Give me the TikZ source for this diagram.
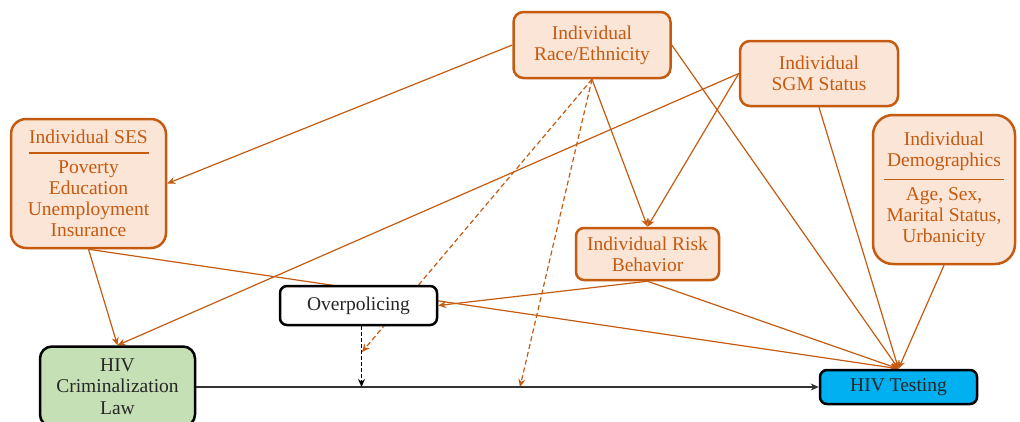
\documentclass[tikz,border=0pt]{standalone}
\usepackage{fontspec}
\setmainfont{Liberation Serif}
\newfontfamily\diagfont{Liberation Serif}
\usetikzlibrary{arrows.meta,backgrounds}

\definecolor{confcolor}{HTML}{C55A11}
\definecolor{conffill}{HTML}{FBE5D6}
\definecolor{lawgreen}{HTML}{C5E0B4}
\definecolor{testblue}{HTML}{00B0F0}

\tikzset{
    labelfont/.style={font=\diagfont\fontsize{19.5}{21.3}\selectfont},
    confounder/.style={labelfont, draw=confcolor, fill=conffill, text=confcolor,
        line width=2.5pt, rounded corners=10pt, align=center, inner sep=0pt},
    keybox/.style={labelfont, draw=black, line width=2.5pt, rounded corners=7pt,
        align=center, inner sep=0pt, text=black!85},
    causal/.style={draw=confcolor, line width=1.2pt, -{Stealth[length=8pt,width=7pt]}},
    moderator/.style={causal, dash pattern=on 5pt off 3pt},
    mainpath/.style={draw=black!80, line width=1.3pt, -{Stealth[length=8pt,width=7pt]}},
    mediator/.style={mainpath, draw=black, dash pattern=on 4pt off 2pt},
}

\begin{document}
\begin{tikzpicture}[x=1pt, y=-1pt]
    \useasboundingbox (0,0) rectangle (1020,421);

    % Individual level factors
    \node[confounder, minimum width=157pt, minimum height=66pt] (race) at (592,45)
        {Individual\\Race/Ethnicity};
    \node[confounder, minimum width=158pt, minimum height=65pt] (sgm) at (819,73.5)
        {Individual\\SGM Status};
    \node[confounder, rounded corners=15pt, minimum width=155pt, minimum height=129pt] (ses) at (88.5,183.5)
        {Individual SES\\[-11pt]\rule{120pt}{1.4pt}\\[-2pt]Poverty\\Education\\Unemployment\\Insurance};
    \node[confounder, rounded corners=20pt, minimum width=142pt, minimum height=149pt] (demo) at (944,189.5)
        {Individual\\Demographics\\[-8pt]\rule{120pt}{1.4pt}\\[-1pt]Age, Sex,\\Marital Status,\\Urbanicity};
    \node[confounder, rounded corners=8pt, minimum width=143pt, minimum height=52pt] (risk) at (647.5,254)
        {Individual Risk\\Behavior};

    % Exposure, mediator and outcome
    \node[keybox, fill=white, minimum width=157pt, minimum height=39pt] (overpol) at (358.5,305.5)
        {Overpolicing};
    \node[keybox, fill=lawgreen, rounded corners=12pt, minimum width=155pt, minimum height=80pt] (crim) at (117.5,386.5)
        {HIV\\Criminalization\\Law};
    \node[keybox, fill=testblue, minimum width=157pt, minimum height=34pt] (testing) at (898.5,387)
        {HIV Testing};

    \coordinate (opfoot) at ([xshift=3pt]overpol.south);
    \coordinate (modA) at (opfoot |- testing.west);
    \coordinate (modB) at (520,387);
    \coordinate (modC) at (362,352);

    \begin{pgfonlayer}{background}
        % Paths from the confounders
        \draw[causal] (race.west) -- (ses.east);
        \draw[causal] (race.south) -- (risk.north);
        \draw[causal] (race.east) -- (testing.north);
        \draw[causal] (sgm.west) -- (crim.north);
        \draw[causal] (sgm.west) -- (risk.north);
        \draw[causal] (sgm.south) -- (testing.north);
        \draw[causal] (demo.south) -- (testing.north);
        \draw[causal] (ses.south) -- (crim.north);
        \draw[causal] (ses.south) -- (testing.north);
        \draw[causal] (risk.south) -- (overpol.east);
        \draw[causal] (risk.south) -- (testing.north);

        % Effect modification by race/ethnicity
        \draw[moderator] (race.south) -- (modC);
        \draw[moderator] (race.south) -- (modB);

        % Main path and mediation
        \draw[mainpath] (crim.east |- testing.west) -- (testing.west);
        \draw[mediator] (opfoot) -- (modA);
    \end{pgfonlayer}
\end{tikzpicture}
\end{document}
